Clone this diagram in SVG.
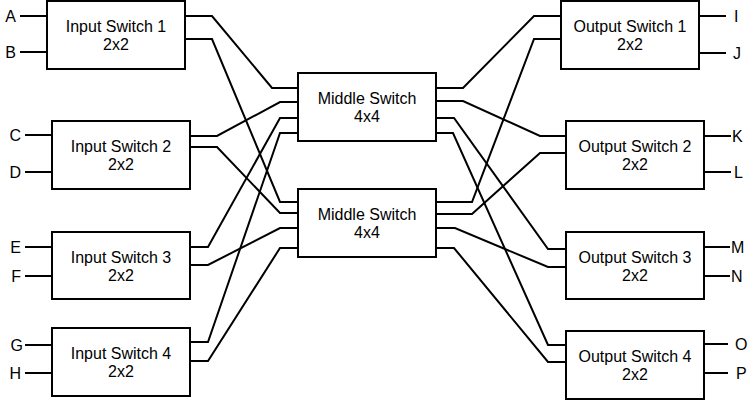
<svg xmlns="http://www.w3.org/2000/svg" width="754" height="400" viewBox="0 0 754 400">
<style>
.box{fill:#fff;stroke:#000;stroke-width:2}
.w{fill:none;stroke:#000;stroke-width:2;stroke-linejoin:miter}
text{font-family:"Liberation Sans",Arial,sans-serif;font-size:16px;fill:#000}
.c{text-anchor:middle}
.e{text-anchor:end}
</style>
<rect width="754" height="400" fill="#fff"/>
<g id="connectors" class="w">
<!-- input stubs -->
<path d="M20 16H47M20 52H47"/>
<path d="M25 135H52M25 172H52"/>
<path d="M25 247H52M25 276H52"/>
<path d="M25 345H52M25 373H52"/>
<!-- output stubs -->
<path d="M699 16H726M699 53H726"/>
<path d="M704 136H731M704 172H731"/>
<path d="M704 247H730M704 276H730"/>
<path d="M704 344H728M704 373H728"/>
<!-- input switches to middle -->
<polyline points="185,16 212,16 272,88 298,88"/>
<polyline points="185,39 212,39 280,202 298,202"/>
<polyline points="190,136 217,136 280,102 298,102"/>
<polyline points="190,147 217,147 280,213 298,213"/>
<polyline points="190,247 208,247 280,118 298,118"/>
<polyline points="190,265 208,265 280,228 298,228"/>
<polyline points="190,342 208,342 280,133 298,133"/>
<polyline points="190,361 208,361 280,248 298,248"/>
<!-- middle to output switches -->
<polyline points="436,88 463,88 534,16 561,16"/>
<polyline points="436,101 463,101 540,136 566,136"/>
<polyline points="436,118 454,118 548,249 566,249"/>
<polyline points="436,133 453,133 548,345 566,345"/>
<polyline points="436,202 472,202 534,39 561,39"/>
<polyline points="436,214 472,214 540,153 566,153"/>
<polyline points="436,228 455,228 548,267 566,267"/>
<polyline points="436,248 454,248 548,362 566,362"/>
</g>
<g id="is1"><rect class="box" x="47" y="1" width="138" height="68"/><text class="c" x="116" y="32">Input Switch 1</text><text class="c" x="116" y="50">2x2</text></g>
<g id="is2"><rect class="box" x="52" y="121" width="138" height="68"/><text class="c" x="121" y="152">Input Switch 2</text><text class="c" x="121" y="170">2x2</text></g>
<g id="is3"><rect class="box" x="52" y="232" width="138" height="67"/><text class="c" x="121" y="263">Input Switch 3</text><text class="c" x="121" y="281">2x2</text></g>
<g id="is4"><rect class="box" x="52" y="328" width="138" height="68"/><text class="c" x="121" y="359">Input Switch 4</text><text class="c" x="121" y="377">2x2</text></g>
<g id="ms1"><rect class="box" x="298" y="73" width="138" height="68"/><text class="c" x="367" y="104">Middle Switch</text><text class="c" x="367" y="122">4x4</text></g>
<g id="ms2"><rect class="box" x="298" y="189" width="138" height="68"/><text class="c" x="367" y="220">Middle Switch</text><text class="c" x="367" y="238">4x4</text></g>
<g id="os1"><rect class="box" x="561" y="1" width="138" height="68"/><text class="c" x="630" y="32">Output Switch 1</text><text class="c" x="630" y="50">2x2</text></g>
<g id="os2"><rect class="box" x="566" y="121" width="138" height="68"/><text class="c" x="635" y="152">Output Switch 2</text><text class="c" x="635" y="170">2x2</text></g>
<g id="os3"><rect class="box" x="566" y="232" width="138" height="67"/><text class="c" x="635" y="263">Output Switch 3</text><text class="c" x="635" y="281">2x2</text></g>
<g id="os4"><rect class="box" x="566" y="331" width="138" height="68"/><text class="c" x="635" y="362">Output Switch 4</text><text class="c" x="635" y="380">2x2</text></g>
<g id="labels">
<text class="e" x="16" y="22">A</text>
<text class="e" x="16" y="58">B</text>
<text class="e" x="21" y="141">C</text>
<text class="e" x="21" y="178">D</text>
<text class="e" x="21" y="253">E</text>
<text class="e" x="21" y="282">F</text>
<text class="e" x="23" y="351">G</text>
<text class="e" x="21" y="379">H</text>
<text x="734" y="22">I</text>
<text x="733" y="59">J</text>
<text x="732" y="142">K</text>
<text x="734" y="178">L</text>
<text x="731" y="253">M</text>
<text x="731" y="282">N</text>
<text x="735" y="350">O</text>
<text x="736" y="379">P</text>
</g>
</svg>
